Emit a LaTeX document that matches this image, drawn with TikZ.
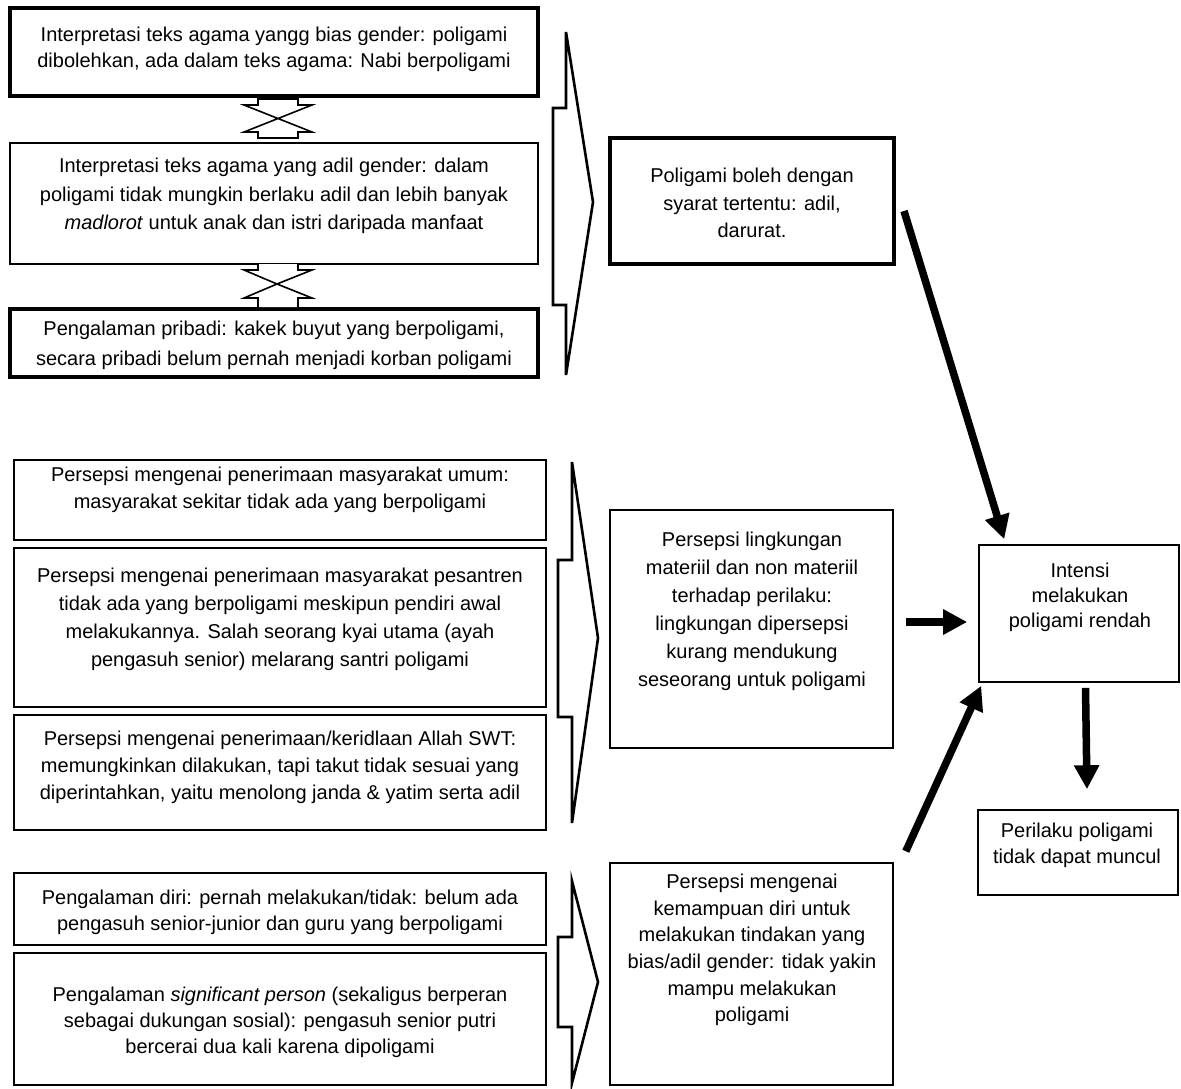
\documentclass[tikz,border=0pt]{standalone}
\usepackage{fontspec}
\setmainfont{Liberation Sans}
\usetikzlibrary{arrows.meta,fit}
\begin{document}
\begin{tikzpicture}[x=1pt,y=-1pt,
  thinbox/.style={draw, line width=1.6pt, inner sep=0pt},
  thickbox/.style={draw, line width=4pt, inner sep=0pt},
  txt/.style={align=center, inner sep=0pt},
  brace/.style={draw, line width=2.6pt},
  dblarrow/.style={draw, line width=1.6pt, fill=white},
  bigarrow/.style={line width=7.5pt, -{Triangle[length=24pt,width=24pt]}}]
\useasboundingbox (0,0) rectangle (1181,1088);

% ---- first group: religious interpretation and personal experience
\node[thickbox, fit={(10,8) (538,96)}] (a1) {};
\node[thinbox, fit={(10,143) (538,264)}] (a2) {};
\node[thickbox, fit={(10,309) (538,377)}] (a3) {};
\node[txt, font=\fontsize{20}{26}\selectfont] (a1t) at (274,49)
  {Interpretasi teks agama yangg bias gender: poligami\\dibolehkan, ada dalam teks agama: Nabi berpoligami};
\node[txt, font=\fontsize{20}{28.5}\selectfont] (a2t) at (274,196)
  {Interpretasi teks agama yang adil gender: dalam\\poligami tidak mungkin berlaku adil dan lebih banyak\\\textit{madlorot} untuk anak dan istri daripada manfaat};
\node[txt, font=\fontsize{20}{30}\selectfont] (a3t) at (274,345)
  {Pengalaman pribadi: kakek buyut yang berpoligami,\\secara pribadi belum pernah menjadi korban poligami};

% crossed double arrow between a1 and a2
\path[dblarrow] (258,99) -- (298,99) -- (298,105) -- (312,105) -- (244,132) -- (258,132)
  -- (258,138) -- (298,138) -- (298,132) -- (312,132) -- (244,105) -- (258,105) -- cycle;
% facing arrowheads between a2 and a3
\path[dblarrow] (258,264) -- (258,270) -- (244,270) -- (277,284) -- (312,270) -- (298,270) -- (298,264);
\path[dblarrow] (258,307) -- (258,298) -- (244,298) -- (277,284) -- (312,298) -- (298,298) -- (298,307);

% bracket arrow of the first group
\path[brace] (566,32) -- (593,202) -- (566,375) -- (566,305) -- (553,305) -- (553,108) -- (566,108) -- cycle;

\node[thickbox, fit={(610,138) (894,264)}] (m1) {};
\node[txt, font=\fontsize{20}{27.5}\selectfont] (m1t) at (752,203)
  {Poligami boleh dengan\\syarat tertentu: adil,\\darurat.};

% ---- second group: perceived social acceptance
\node[thinbox, fit={(14,460) (546,540)}] (b1) {};
\node[thinbox, fit={(14,548) (546,707)}] (b2) {};
\node[thinbox, fit={(14,715) (546,830)}] (b3) {};
\node[txt, font=\fontsize{20}{27}\selectfont] (b1t) at (280,490)
  {Persepsi mengenai penerimaan masyarakat umum:\\masyarakat sekitar tidak ada yang berpoligami};
\node[txt, font=\fontsize{20}{28}\selectfont] (b2t) at (280,619)
  {Persepsi mengenai penerimaan masyarakat pesantren\\tidak ada yang berpoligami meskipun pendiri awal\\melakukannya. Salah seorang kyai utama (ayah\\pengasuh senior) melarang santri poligami};
\node[txt, font=\fontsize{20}{27}\selectfont] (b3t) at (280,767)
  {Persepsi mengenai penerimaan/keridlaan Allah SWT:\\memungkinkan dilakukan, tapi takut tidak sesuai yang\\diperintahkan, yaitu menolong janda \& yatim serta adil};

\path[brace] (572,462) -- (598,638) -- (572,823) -- (572,717) -- (558,717) -- (558,560) -- (572,560) -- cycle;

\node[thinbox, fit={(610,510) (893,748)}] (m2) {};
\node[txt, font=\fontsize{20}{28}\selectfont] (m2t) at (752,611)
  {Persepsi lingkungan\\materiil dan non materiil\\terhadap perilaku:\\lingkungan dipersepsi\\kurang mendukung\\seseorang untuk poligami};

% ---- third group: experience and self-efficacy
\node[thinbox, fit={(14,873) (546,945)}] (c1) {};
\node[thinbox, fit={(14,953) (546,1085)}] (c2) {};
\node[txt, font=\fontsize{20}{26}\selectfont] (c1t) at (280,912)
  {Pengalaman diri: pernah melakukan/tidak: belum ada\\pengasuh senior-junior dan guru yang berpoligami};
\node[txt, font=\fontsize{20}{26}\selectfont] (c2t) at (280,1022)
  {Pengalaman \textit{significant person} (sekaligus berperan\\sebagai dukungan sosial): pengasuh senior putri\\bercerai dua kali karena dipoligami};

\path[brace] (572,881) -- (598,982) -- (572,1083) -- (572,1027) -- (558,1027) -- (558,937) -- (572,937) -- cycle;

\node[thinbox, fit={(610,863) (893,1085)}] (m3) {};
\node[txt, font=\fontsize{20}{26.6}\selectfont] (m3t) at (752,950)
  {Persepsi mengenai\\kemampuan diri untuk\\melakukan tindakan yang\\bias/adil gender: tidak yakin\\mampu melakukan\\poligami};

% ---- intention and behaviour
\node[thinbox, fit={(979,545) (1179,682)}] (r1) {};
\node[txt, font=\fontsize{20}{25}\selectfont] (r1t) at (1080,597)
  {Intensi\\melakukan\\poligami rendah};
\node[thinbox, fit={(978,810) (1178,895)}] (r2) {};
\node[txt, font=\fontsize{20}{26}\selectfont] (r2t) at (1077,845)
  {Perilaku poligami\\tidak dapat muncul};

% ---- connectors
\draw[bigarrow] ([shift={(8,75)}]m1.north east) -- ([shift={(26,-5)}]r1.north west);
\draw[bigarrow] ([shift={(12,-7)}]m2.east) -- ([shift={(-11,8.5)}]r1.west);
\draw[bigarrow] ([shift={(12,-11)}]m3.north east) -- ([shift={(3,3)}]r1.south west);
\draw[bigarrow] ([shift={(6.5,5)}]r1.south) -- ([shift={(9,-20)}]r2.north);
\end{tikzpicture}
\end{document}
